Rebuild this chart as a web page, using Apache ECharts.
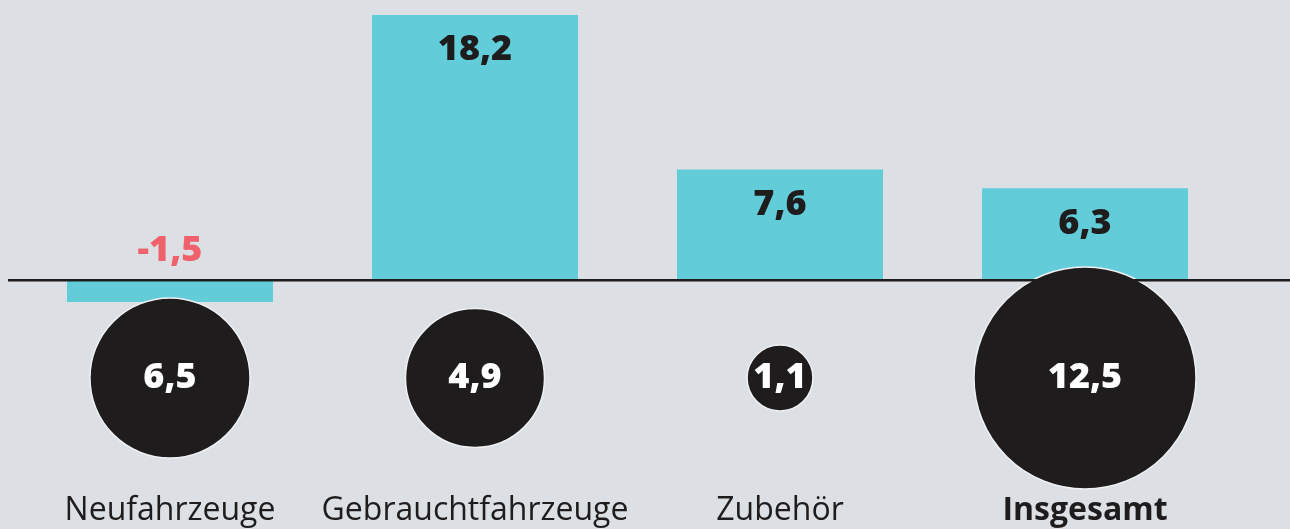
<!DOCTYPE html>
<html>
<head>
<meta charset="utf-8">
<script src="https://cdn.jsdelivr.net/npm/echarts@6/dist/echarts.min.js"></script>
<style>
  html, body { margin: 0; padding: 0; background: #dcdfe4; }
  #chart { width: 1290px; height: 529px; }
</style>
</head>
<body>
<div id="chart"></div>
<script>
// Veränderung in % (Balken) und Umsatz (Kreise)
var categories = ['Neufahrzeuge', 'Gebrauchtfahrzeuge', 'Zubehör', 'Insgesamt'];
var changeValues = [-1.5, 18.2, 7.6, 6.3];
var circleValues = [6.5, 4.9, 1.1, 12.5];

var FONT = '"Open Sans", "Noto Sans", sans-serif';
var fmt = function (v) { return v.toFixed(1).replace('.', ','); };

var chart = echarts.init(document.getElementById('chart'));

var option = {
  backgroundColor: '#dcdfe4',
  animation: false,
  grid: [
    { left: 17.5, width: 1220, top: 15, bottom: 227 },
    { left: 17.5, width: 1220, top: 278, height: 200 }
  ],
  xAxis: [
    { type: 'category', gridIndex: 0, data: categories, show: false },
    {
      type: 'category', gridIndex: 1,
      data: categories.map(function (c, i) {
        return i === categories.length - 1 ? { value: c, textStyle: { fontWeight: 'bold' } } : c;
      }),
      axisLine: { show: false }, axisTick: { show: false },
      axisLabel: { color: '#1e1c1d', fontSize: 32, fontFamily: FONT, margin: 17, interval: 0 }
    }
  ],
  yAxis: [
    { type: 'value', gridIndex: 0, min: -1.5, max: 18.2, show: false },
    { type: 'value', gridIndex: 1, min: -1, max: 1, show: false }
  ],
  series: [
    {
      type: 'bar',
      xAxisIndex: 0, yAxisIndex: 0,
      barWidth: 206,
      itemStyle: { color: '#62ccd9' },
      data: changeValues.map(function (v) {
        return {
          value: v,
          label: v < 0
            ? { position: 'top', distance: 11, color: '#f0626b' }
            : { position: 'insideTop', distance: 17, color: '#1e1c1d' }
        };
      }),
      label: {
        show: true, fontSize: 36, fontWeight: 800, fontFamily: FONT,
        formatter: function (p) { return fmt(p.value); }
      }
    },
    {
      type: 'scatter',
      xAxisIndex: 1, yAxisIndex: 1,
      data: circleValues.map(function (v, i) { return [categories[i], 0, v]; }),
      symbolSize: function (d) { return 62.8 * Math.sqrt(d[2]); },
      itemStyle: { color: '#1e1c1d', borderColor: '#eef0f3', borderWidth: 1.5, opacity: 1 },
      label: {
        show: true, position: 'inside', color: '#ffffff', fontSize: 36, fontWeight: 800, fontFamily: FONT,
        formatter: function (p) { return fmt(p.value[2]); }
      }
    }
  ]
};

chart.setOption(option);

// Nulllinie über die ganze Breite
var zeroY = chart.convertToPixel({ yAxisIndex: 0 }, 0);
chart.setOption({
  graphic: [{
    type: 'line', z: 10,
    shape: { x1: 8, y1: zeroY, x2: 1290, y2: zeroY },
    style: { stroke: '#1e1c1d', lineWidth: 2.5 }
  }]
});
</script>
</body>
</html>
